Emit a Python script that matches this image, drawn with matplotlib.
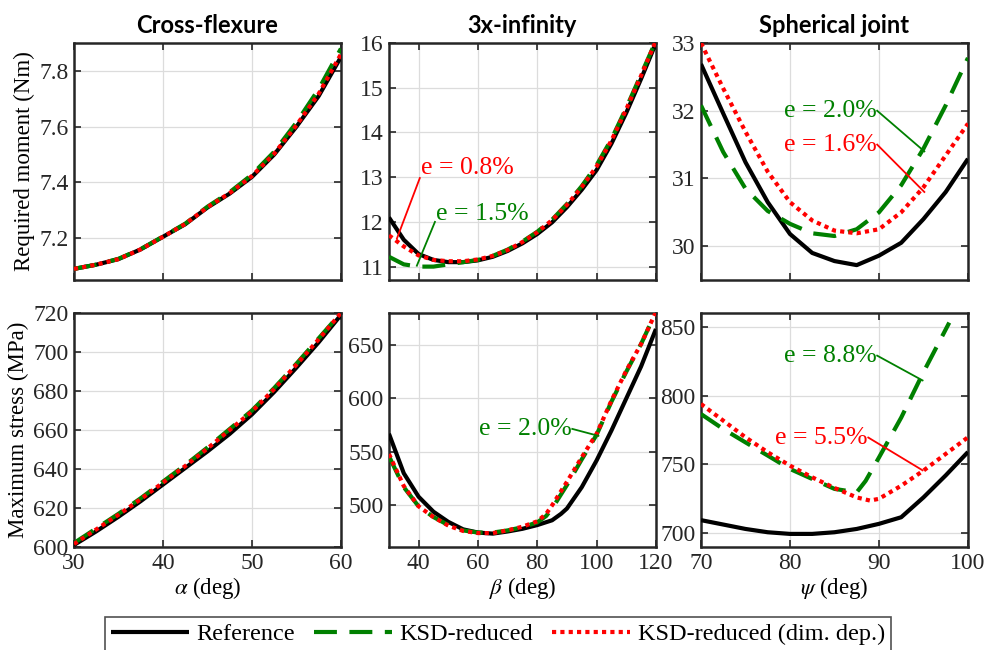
import matplotlib
matplotlib.use('Agg')
import matplotlib.pyplot as plt
import numpy as np

plt.rcParams['font.family'] = ['Liberation Serif', 'DejaVu Serif']
plt.rcParams['mathtext.fontset'] = 'stix'
plt.rc('xtick', labelsize=17)
plt.rc('ytick', labelsize=17)
plt.rc('axes', labelsize=16.5)

# ---- data ----
# Cross-flexure
alpha = [30, 32.5, 35, 37.5, 40, 42.5, 45, 47.5, 50, 52.5, 55, 57.5, 60]
cf_mom_ref = [7.09, 7.105, 7.125, 7.16, 7.205, 7.25, 7.31, 7.36, 7.42, 7.50, 7.60, 7.71, 7.85]
cf_mom_ksd = [7.09, 7.105, 7.126, 7.161, 7.206, 7.252, 7.313, 7.365, 7.428, 7.51, 7.615, 7.735, 7.88]
cf_mom_dim = [7.09, 7.105, 7.125, 7.16, 7.205, 7.251, 7.311, 7.362, 7.423, 7.503, 7.605, 7.718, 7.86]
cf_str_ref = [601, 608, 615.5, 623.5, 632, 640.5, 649, 658, 668, 679.5, 692, 705, 719]
cf_str_ksd = [602, 609.5, 617, 625, 633.5, 642, 651, 660.5, 670, 681.5, 694, 707, 720]
cf_str_dim = [601.5, 609, 616.5, 624.5, 633, 641.5, 650.5, 660, 669.5, 681, 693.5, 706.5, 720]

# 3x-infinity
beta = [30, 35, 40, 45, 50, 55, 60, 65, 70, 75, 80, 85, 90, 95, 100, 105, 110, 115, 120]
ti_mom_ref = [12.1, 11.6, 11.28, 11.15, 11.1, 11.1, 11.14, 11.22, 11.35, 11.52, 11.73, 11.99, 12.33, 12.72, 13.16, 13.75, 14.44, 15.2, 16.0]
ti_mom_ksd = [11.22, 11.05, 11.0, 11.0, 11.05, 11.1, 11.15, 11.24, 11.38, 11.56, 11.78, 12.05, 12.4, 12.8, 13.27, 13.85, 14.55, 15.3, 16.05]
ti_mom_dim = [11.7, 11.45, 11.25, 11.15, 11.12, 11.12, 11.16, 11.24, 11.37, 11.55, 11.77, 12.04, 12.38, 12.78, 13.24, 13.82, 14.52, 15.27, 16.05]
beta_s = [30, 35, 40, 45, 50, 55, 60, 65, 70, 75, 80, 85, 88, 90, 95, 100, 105, 110, 115, 120]
ti_str_ref = [567, 530, 508, 494, 484.5, 477.5, 474.5, 473.5, 475.5, 478, 481.5, 486, 492, 497, 517, 542, 570, 600, 630, 665]
beta_k = [30, 35, 40, 45, 50, 55, 60, 65, 70, 75, 80, 83, 85, 90, 95, 100, 105, 110, 115, 120]
ti_str_ksd = [546, 517, 499, 489, 481.5, 476.5, 474.5, 474.5, 476.5, 479.5, 484, 490, 497, 519, 543, 566, 597, 625, 651, 681]
ti_str_dim = [548, 518, 499, 489, 481, 476, 474, 474, 476.5, 480, 485, 492, 500, 522, 545, 567, 598, 626, 651, 681]

# Spherical joint
psi = [70, 72.5, 75, 77.5, 80, 82.5, 85, 87.5, 90, 92.5, 95, 97.5, 100]
sj_mom_ref = [32.69, 31.96, 31.24, 30.65, 30.18, 29.9, 29.78, 29.72, 29.86, 30.05, 30.4, 30.8, 31.29]
sj_mom_ksd = [32.08, 31.39, 30.85, 30.52, 30.33, 30.19, 30.15, 30.25, 30.5, 30.9, 31.44, 32.08, 32.78]
sj_mom_dim = [33.0, 32.33, 31.69, 31.1, 30.65, 30.38, 30.23, 30.19, 30.25, 30.5, 30.87, 31.34, 31.81]
psi_s = [70, 72.5, 75, 77.5, 80, 82.5, 85, 87.5, 90, 92.5, 95, 97.5, 100]
sj_str_ref = [709.5, 706.3, 703.1, 700.7, 699.5, 699.5, 700.7, 703.1, 706.8, 711.6, 726, 742, 759]
psi_k = [70, 72.5, 75, 77.5, 80, 82.5, 85, 87.5, 88.5, 90, 92.5, 95, 97.9]
sj_str_ksd = [786.6, 775.7, 766, 756.4, 746.7, 739.4, 732.2, 729.7, 738, 755, 784, 817, 853]
psi_d = [70, 72.5, 75, 77.5, 80, 82.5, 85, 87.5, 89, 90, 92.5, 95, 97.5, 100]
sj_str_dim = [793.9, 781.8, 769.7, 758.8, 749.1, 740.6, 732.9, 726, 723.7, 725, 734.5, 745.5, 757.6, 769.7]

titles = ['Cross-flexure', '3x-infinity', 'Spherical joint']
xlabels = [r'$\alpha$ (deg)', r'$\beta$ (deg)', r'$\psi$ (deg)']
ylabels = ['Required moment (Nm)', 'Maximum stress (MPa)']

green = '#008000'
red = '#ff0000'
dark = '#262626'

fig = plt.figure(figsize=(9.94, 6.5), dpi=100)
lefts = [0.0744, 0.3913, 0.7052]
bottoms = [0.5692, 0.1585]
w = 0.2686
hs = [0.3646, 0.36]

axes = [[fig.add_axes([lefts[c], bottoms[r], w, hs[r]]) for c in range(3)] for r in range(2)]

series = [
    [(alpha, cf_mom_ref, alpha, cf_mom_ksd, alpha, cf_mom_dim),
     (beta, ti_mom_ref, beta, ti_mom_ksd, beta, ti_mom_dim),
     (psi, sj_mom_ref, psi, sj_mom_ksd, psi, sj_mom_dim)],
    [(alpha, cf_str_ref, alpha, cf_str_ksd, alpha, cf_str_dim),
     (beta_s, ti_str_ref, beta_k, ti_str_ksd, beta_k, ti_str_dim),
     (psi_s, sj_str_ref, psi_k, sj_str_ksd, psi_d, sj_str_dim)],
]

xlims = [(30, 60), (30, 120), (70, 100)]
xticks = [[30, 40, 50, 60], [40, 60, 80, 100, 120], [70, 80, 90, 100]]
ylims = [[(7.05, 7.9), (10.7, 16), (29.5, 33)], [(600, 720), (461, 680), (690, 860)]]
yticks = [[[7.2, 7.4, 7.6, 7.8], [11, 12, 13, 14, 15, 16], [30, 31, 32, 33]],
          [[600, 620, 640, 660, 680, 700, 720], [500, 550, 600, 650], [700, 750, 800, 850]]]

handles = None
for r in range(2):
    for c in range(3):
        ax = axes[r][c]
        xr, yr, xk, yk, xd, yd = series[r][c]
        h1, = ax.plot(xr, yr, color='k', lw=3, solid_capstyle='butt', zorder=3)
        h2, = ax.plot(xk, yk, color=green, lw=3, linestyle=(0, (5.5, 3)), zorder=4)
        h3, = ax.plot(xd, yd, color=red, lw=3, linestyle=(0, (1, 1)), zorder=5)
        handles = [h1, h2, h3]
        ax.set_xlim(*xlims[c])
        ax.set_ylim(*ylims[r][c])
        ax.set_xticks(xticks[c])
        ax.set_yticks(yticks[r][c])
        ax.yaxis.set_major_formatter(matplotlib.ticker.FormatStrFormatter('%g'))
        ax.grid(True, color='#dcdcdc', lw=0.9)
        ax.set_axisbelow(True)
        ax.tick_params(direction='in', top=True, right=True, length=5, width=1.2,
                       colors=dark, pad=4)
        for s in ax.spines.values():
            s.set_linewidth(1.8)
            s.set_color(dark)
        if r == 0:
            ax.set_xticklabels([])
            ax.set_title(titles[c], fontsize=17, fontweight='bold', family='Lato', pad=7)
        else:
            ax.set_xlabel(xlabels[c], labelpad=1)
        if c == 0:
            ax.set_ylabel(ylabels[r], labelpad=3)

# annotations
fs_ann = 18.5
ax = axes[0][1]
ax.plot([40.4, 32.7], [12.98, 11.63], color=red, lw=1.3, zorder=6)
ax.text(40.8, 12.95, 'e = 0.8%', color=red, fontsize=fs_ann, ha='left', va='bottom')
ax.plot([45.5, 39.4], [12.0, 11.02], color=green, lw=1.3, zorder=6)
ax.text(45.8, 11.93, 'e = 1.5%', color=green, fontsize=fs_ann, ha='left', va='bottom')

ax = axes[0][2]
ax.plot([89.8, 95.1], [32.0, 31.4], color=green, lw=1.3, zorder=6)
ax.text(89.7, 32.0, 'e = 2.0%', color=green, fontsize=fs_ann, ha='right', va='center')
ax.plot([89.8, 95.1], [31.5, 30.8], color=red, lw=1.3, zorder=6)
ax.text(89.7, 31.5, 'e = 1.6%', color=red, fontsize=fs_ann, ha='right', va='center')

ax = axes[1][1]
ax.plot([91.8, 100.6], [571.5, 565], color=green, lw=1.3, zorder=6)
ax.text(91.6, 571.5, 'e = 2.0%', color=green, fontsize=fs_ann, ha='right', va='center')

ax = axes[1][2]
ax.plot([89.8, 94.9], [829, 811], color=green, lw=1.3, zorder=6)
ax.text(89.7, 829, 'e = 8.8%', color=green, fontsize=fs_ann, ha='right', va='center')
ax.plot([88.8, 94.9], [769.5, 745.7], color=red, lw=1.3, zorder=6)
ax.text(88.7, 769.5, 'e = 5.5%', color=red, fontsize=fs_ann, ha='right', va='center')

leg = fig.legend(handles, ['Reference', 'KSD-reduced', 'KSD-reduced (dim. dep.)'],
                 loc='upper center', bbox_to_anchor=(0.501, 1 - 617 / 650), ncol=3,
                 fontsize=17.5, handlelength=3.2, handletextpad=0.3, columnspacing=0.8,
                 frameon=True, fancybox=False, edgecolor=dark, borderpad=0.25,
                 borderaxespad=0)
leg.get_frame().set_linewidth(1.2)

fig.savefig('out.png', dpi=100)
